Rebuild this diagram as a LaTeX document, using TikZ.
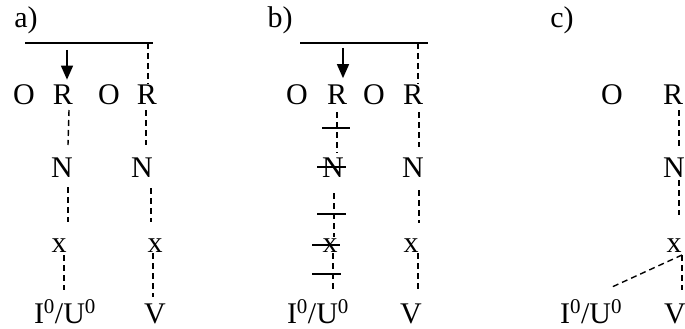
\documentclass[tikz,border=0pt]{standalone}
\usepackage{fontspec}
\setmainfont{Liberation Serif}
\usetikzlibrary{arrows.meta}
\begin{document}
\begin{tikzpicture}[x=1pt,y=-1pt,
  txt/.style={font=\fontsize{30}{32}\selectfont, inner sep=0pt, anchor=base},
  dsh/.style={line width=1.4pt, dash pattern=on 6pt off 4pt},
  bar/.style={line width=1.4pt},
  arr/.style={line width=1.4pt, -{Triangle[length=14pt,width=12pt]}}]
\useasboundingbox (0,0) rectangle (685,329);

% ---------- panel a ----------
\node[txt] (la) at (26,28) {a)};
\node[txt] (Oa1) at (24,104) {O};
\node[txt] (Ra1) at (63,104) {R};
\node[txt] (Oa2) at (109,104) {O};
\node[txt] (Ra2) at (147,104) {R};
\node[txt] (Na1) at (62,177) {N};
\node[txt] (Na2) at (142,177) {N};
\node[txt] (xa1) at (59,252) {x};
\node[txt] (xa2) at (155,252) {x};
\node[txt] (Ia) at (65,323) {I\textsuperscript{0}/U\textsuperscript{0}};
\node[txt] (Va) at (155,323) {V};
\coordinate (ta1) at (25,43);
\coordinate (ta2) at (153,43);
\coordinate (tap) at (148,43);
\coordinate (aa) at (67,50);
\draw[bar] (ta1) -- (ta2);
\draw[arr, shorten >=4.5pt] (aa) -- (aa |- Ra1.north);
\draw[dsh] (tap) -- (tap |- Ra2.north);
\draw[dsh] ([xshift=6pt,yshift=-6pt]Ra1.base) -- ([xshift=6pt,yshift=32pt]Na1.base);
\draw[dsh] ([xshift=6pt,yshift=-10pt]Na1.base) -- ([xshift=9pt,yshift=30pt]xa1.base);
\draw[dsh] ([xshift=5pt,yshift=-3pt]xa1.base) -- ([xshift=-1pt,yshift=33pt]Ia.base);
\draw[dsh] ([xshift=-1pt,yshift=-6pt]Ra2.base) -- ([xshift=4pt,yshift=32pt]Na2.base);
\draw[dsh] ([xshift=9pt,yshift=-11pt]Na2.base) -- ([xshift=-4pt,yshift=30pt]xa2.base);
\draw[dsh] ([xshift=-2pt,yshift=-1pt]xa2.base) -- ([xshift=-2pt,yshift=26pt]Va.base);

% ---------- panel b ----------
\node[txt] (lb) at (280,28) {b)};
\node[txt] (Ob1) at (297,104) {O};
\node[txt] (Rb1) at (337,104) {R};
\node[txt] (Ob2) at (374,104) {O};
\node[txt] (Rb2) at (413,104) {R};
\node[txt] (Nb1) at (333,177) {N};
\node[txt] (Nb2) at (413,177) {N};
\node[txt] (xb1) at (330,252) {x};
\node[txt] (xb2) at (411,252) {x};
\node[txt] (Ib) at (318,323) {I\textsuperscript{0}/U\textsuperscript{0}};
\node[txt] (Vb) at (411,323) {V};
\coordinate (tb1) at (300,43);
\coordinate (tb2) at (428,43);
\coordinate (tbp) at (418,43);
\coordinate (ab) at (343,48);
\draw[bar] (tb1) -- (tb2);
\draw[arr, shorten >=6pt] (ab) -- (ab |- Rb1.north);
\draw[dsh] (tbp) -- (tbp |- Rb2.north);
\draw[dsh] ([xshift=6pt,yshift=-8pt]Rb2.base) -- ([xshift=6pt,yshift=30pt]Nb2.base);
\draw[dsh] ([xshift=6pt,yshift=-13pt]Nb2.base) -- ([xshift=8pt,yshift=29pt]xb2.base);
\draw[dsh] ([xshift=7pt,yshift=-1pt]xb2.base) -- ([xshift=7pt,yshift=33pt]Vb.base);
\draw[dsh] ([xshift=0pt,yshift=-8pt]Rb1.base) -- ([xshift=4pt,yshift=24pt]Nb1.base);
\draw[dsh] ([xshift=1pt,yshift=-16pt]Nb1.base) -- ([xshift=4pt,yshift=15pt]xb1.base);
\draw[dsh] ([xshift=3pt,yshift=-1pt]xb1.base) -- ([xshift=15pt,yshift=33pt]Ib.base);
% blocking ticks and strike-throughs
\draw[bar] (322,128) -- (350,128);
\draw[bar] (317,214) -- (346,214);
\draw[bar] (312,274) -- (341,274);
\draw[bar] ([xshift=-16pt,yshift=10pt]Nb1.base) -- ([xshift=13pt,yshift=10pt]Nb1.base);
\draw[bar] ([xshift=-18pt,yshift=7pt]xb1.base) -- ([xshift=10pt,yshift=7pt]xb1.base);

% ---------- panel c ----------
\node[txt] (lc) at (562,28) {c)};
\node[txt] (Oc) at (612,104) {O};
\node[txt] (Rc) at (673,104) {R};
\node[txt] (Nc) at (674,177) {N};
\node[txt] (xc) at (674,252) {x};
\node[txt] (Ic) at (591,323) {I\textsuperscript{0}/U\textsuperscript{0}};
\node[txt] (Vc) at (675,323) {V};
\draw[dsh] ([xshift=6pt,yshift=-6pt]Rc.base) -- ([xshift=5pt,yshift=30pt]Nc.base);
\draw[dsh] ([xshift=5pt,yshift=-3pt]Nc.base) -- ([xshift=5pt,yshift=37pt]xc.base);
\draw[dsh] ([xshift=8pt,yshift=-3pt]xc.base) -- ([xshift=21pt,yshift=36pt]Ic.base);
\draw[dsh] ([xshift=8pt,yshift=-3pt]xc.base) -- ([xshift=7pt,yshift=33pt]Vc.base);
\end{tikzpicture}
\end{document}
